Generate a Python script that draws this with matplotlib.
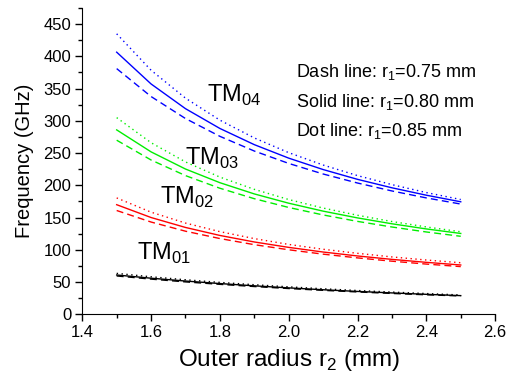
import matplotlib
matplotlib.use("Agg")
import matplotlib.pyplot as plt
from matplotlib.ticker import MultipleLocator

plt.rcParams['font.family'] = ['Liberation Sans', 'DejaVu Sans']
plt.rcParams['mathtext.fontset'] = 'custom'
plt.rcParams['mathtext.rm'] = 'Liberation Sans'

# outer radius r2 (mm)
r2 = [1.5, 1.6, 1.7, 1.8, 1.9, 2.0, 2.1, 2.2, 2.3, 2.4, 2.5]

# TM01 (black)
tm01_dash = [59.5, 54.6, 50.3, 46.5, 43.1, 40.0, 37.2, 34.7, 32.4, 30.3, 28.5]
tm01_solid = [61.0, 56.0, 51.6, 47.7, 44.2, 41.0, 38.1, 35.5, 33.2, 31.0, 29.0]
tm01_dot = [63.5, 58.2, 53.6, 49.5, 45.9, 42.6, 39.6, 36.9, 34.5, 32.2, 30.0]

# TM02 (red)
tm02_dash = [161.0, 143.1, 128.9, 117.5, 108.0, 100.1, 93.3, 87.5, 82.4, 77.9, 74.0]
tm02_solid = [170.0, 150.1, 134.7, 122.3, 112.2, 103.8, 96.6, 90.5, 85.2, 80.6, 76.5]
tm02_dot = [180.5, 158.4, 141.5, 128.2, 117.4, 108.4, 100.9, 94.6, 89.0, 84.2, 80.0]

# TM03 (green)
tm03_dash = [270.0, 239.3, 215.1, 195.5, 179.3, 165.7, 154.1, 144.1, 135.4, 127.7, 121.0]
tm03_solid = [286.0, 251.9, 225.3, 204.1, 186.7, 172.3, 160.0, 149.5, 140.4, 132.4, 125.4]
tm03_dot = [305.0, 266.1, 236.3, 212.8, 193.8, 178.0, 164.8, 153.6, 143.9, 135.5, 128.0]

# TM04 (blue)
tm04_dash = [381.0, 337.7, 303.6, 276.0, 253.2, 234.0, 217.6, 203.6, 191.3, 180.5, 171.0]
tm04_solid = [406.5, 357.2, 318.9, 288.2, 263.1, 242.2, 224.5, 209.3, 196.2, 184.7, 174.5]
tm04_dot = [435.0, 378.5, 335.2, 301.1, 273.5, 250.7, 231.5, 215.1, 201.1, 188.8, 178.0]

modes = [
    ("black", tm01_dash, tm01_solid, tm01_dot),
    ("red", tm02_dash, tm02_solid, tm02_dot),
    ("#00ee00", tm03_dash, tm03_solid, tm03_dot),
    ("#0000ff", tm04_dash, tm04_solid, tm04_dot),
]

fig = plt.figure(figsize=(5.11, 3.81), dpi=100)
ax = fig.add_axes([0.161, 0.175, 0.808, 0.804])

for color, dash, solid, dot in modes:
    ax.plot(r2, dash, color=color, lw=1.0, ls=(0, (5, 3)))
    ax.plot(r2, solid, color=color, lw=1.0, ls='-')
    ax.plot(r2, dot, color=color, lw=1.0, ls=(0, (1, 2.5)))

ax.set_xlim(1.4, 2.6)
ax.set_ylim(0, 475)
ax.xaxis.set_major_locator(MultipleLocator(0.2))
ax.xaxis.set_minor_locator(MultipleLocator(0.1))
ax.yaxis.set_major_locator(MultipleLocator(50))
ax.yaxis.set_minor_locator(MultipleLocator(25))
ax.xaxis.set_major_formatter(plt.FuncFormatter(lambda v, p: f"{v:.1f}"))
ax.spines['top'].set_visible(False)
ax.spines['right'].set_visible(False)
ax.tick_params(which='major', direction='out', length=5, width=1, labelsize=12, pad=3)
ax.tick_params(which='minor', direction='out', length=3, width=1)

ax.set_xlabel("Outer radius r$_\\mathregular{2}$ (mm)", fontsize=17.5, labelpad=5)
ax.set_ylabel("Frequency (GHz)", fontsize=14.5, labelpad=7)

# mode labels
ax.text(1.763, 339, "TM$_\\mathregular{04}$", fontsize=17, va='center')
ax.text(1.70, 242, "TM$_\\mathregular{03}$", fontsize=17, va='center')
ax.text(1.625, 181, "TM$_\\mathregular{02}$", fontsize=17, va='center')
ax.text(1.558, 95, "TM$_\\mathregular{01}$", fontsize=17, va='center')

# line style notes
ax.text(2.0225, 375, "Dash line: r$_\\mathregular{1}$=0.75 mm", fontsize=13, va='center')
ax.text(2.0225, 329, "Solid line: r$_\\mathregular{1}$=0.80 mm", fontsize=13, va='center')
ax.text(2.0225, 284, "Dot line: r$_\\mathregular{1}$=0.85 mm", fontsize=13, va='center')

fig.savefig("out.png", dpi=100)
